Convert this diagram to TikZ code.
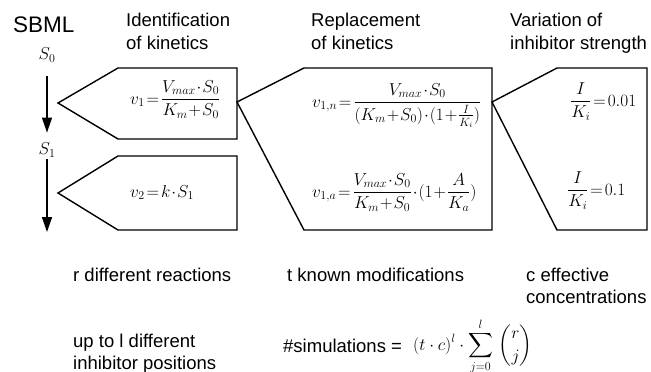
\documentclass[tikz,border=0pt]{standalone}
\usepackage{amsmath}
\usepackage{fontspec}
\setsansfont{Liberation Sans}
\usetikzlibrary{arrows.meta}
\tikzset{
  lbl/.style={anchor=base west, inner sep=0pt, font=\sffamily\fontsize{18.5}{22}\selectfont},
  frm/.style={anchor=base west, inner sep=0pt, font=\fontsize{16.5}{20}\selectfont},
  spec/.style={inner sep=0pt, font=\fontsize{16.5}{19}\selectfont},
  box/.style={draw, line width=1.4pt, line join=miter},
  flow/.style={line width=1.4pt, -{Triangle[length=15pt,width=10pt]}},
}
\newcommand{\tightmath}{\medmuskip=1mu\thickmuskip=2mu}
\begin{document}
\begin{tikzpicture}[x=1pt,y=-1pt]
\useasboundingbox (0,0) rectangle (651,372);

% titles
\node[lbl, font=\sffamily\fontsize{22.5}{26}\selectfont] (sbml) at (13,32) {SBML};
\node[lbl] (t1a) at (126,27) {Identification};
\node[lbl] (t1b) at (126,49) {of kinetics};
\node[lbl] (t2a) at (311,27) {Replacement};
\node[lbl] (t2b) at (311,49) {of kinetics};
\node[lbl] (t3a) at (510,27) {Variation of};
\node[lbl] (t3b) at (510,49) {inhibitor strength};

% species and reaction arrows
\node[spec] (S0) at (47,55) {$S_0$};
\node[spec] (S1) at (47,150) {$S_1$};
\coordinate (end) at (47,232);
\draw[flow, shorten <=14pt, shorten >=10pt] (S0) -- (S1);
\draw[flow, shorten <=2pt] (S1) -- (end);

% boxes
\draw[box] (58,103) -- (118,68) -- (237,68) -- (237,139) -- (118,139) -- cycle;
\draw[box] (58,193) -- (118,156) -- (237,156) -- (237,230) -- (118,230) -- cycle;
\draw[box] (237,102) -- (304,68) -- (492,68) -- (492,230) -- (304,230) -- cycle;
\draw[box] (492,102) -- (557,68) -- (647,68) -- (647,230) -- (557,230) -- cycle;

% formulas
\node[frm] (f1) at (130,104) {$\tightmath\displaystyle v_1=\frac{V_{max}\cdot S_0}{K_m+S_0}$};
\node[frm] (f2) at (130,197) {$\tightmath v_2=k\cdot S_1$};
\node[frm] (f3) at (312,107) {$\tightmath\displaystyle v_{1,n}=\frac{V_{max}\cdot S_0}{(K_m+S_0)\cdot(1+\frac{I}{K_i})}$};
\node[frm] (f4) at (312,197) {$\tightmath\displaystyle v_{1,a}=\frac{V_{max}\cdot S_0}{K_m+S_0}\cdot(1+\frac{A}{K_a})$};
\node[frm] (f5) at (570,106) {$\tightmath\displaystyle\frac{I}{K_i}=0.01$};
\node[frm] (f6) at (567,195) {$\tightmath\displaystyle\frac{I}{K_i}=0.1$};

% bottom labels
\node[lbl] (b1) at (73,281) {r different reactions};
\node[lbl] (b2) at (287,281) {t known modifications};
\node[lbl] (b3a) at (526,281) {c effective};
\node[lbl] (b3b) at (526,303) {concentrations};
\node[lbl] (b4a) at (73,347) {up to l different};
\node[lbl] (b4b) at (73,369) {inhibitor positions};
\node[lbl] (b5) at (283,352) {\#simulations =};
\node[frm, font=\fontsize{16.5}{19}\selectfont] (f7) at (413,350) {$\displaystyle(t\cdot c)^l\cdot\sum_{j=0}^{l}\,\binom{r}{j}$};
\end{tikzpicture}
\end{document}
